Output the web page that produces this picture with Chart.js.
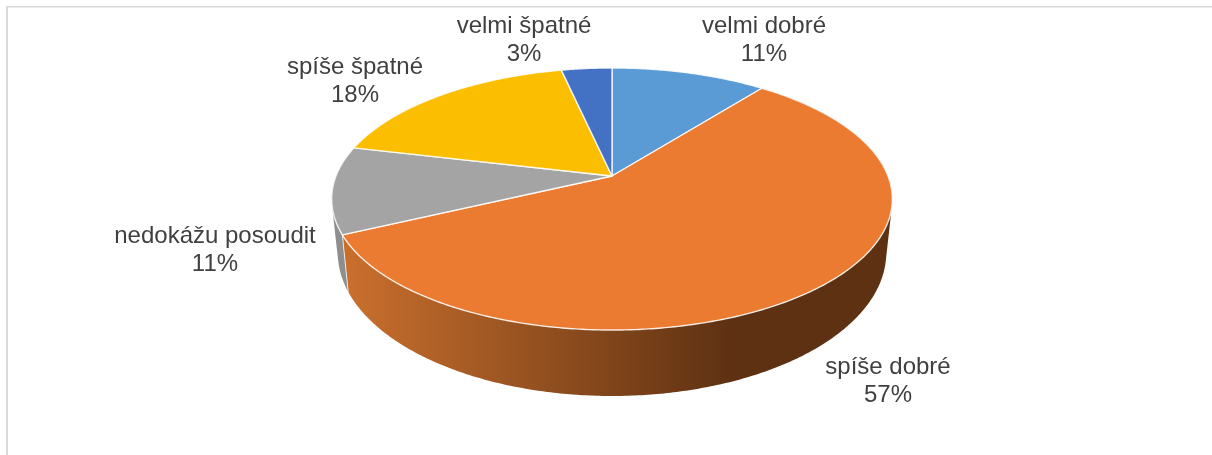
<!DOCTYPE html>
<html>
<head>
<meta charset="utf-8">
<style>
html,body{margin:0;padding:0;background:#fff;overflow:hidden}
canvas{display:block}
</style>
<script src="https://cdn.jsdelivr.net/npm/chart.js@4/dist/chart.umd.js"></script>
</head>
<body>
<canvas id="c" width="1212" height="455"></canvas>
<script>
const categories = ['velmi dobré','spíše dobré','nedokážu posoudit','spíše špatné','velmi špatné'];
const values = [10.6, 57.35, 10.75, 17.85, 3.45];
const colors = ['#5A9AD5','#EB7B30','#A4A4A4','#FCBE00','#4371C3'];
const wallColors = [null,null,'#8E8E8E',null,null];
const labelCenters = [[764,40],[888,381],[215,250],[355,81],[524,40]];

// perspective of the tilted disc: top face and bottom rim
const topFace = {cx:612, cy:176, a:276, b:127, p:-0.1755};
const botFace = {cx:612, cy:227.4, a:270, b:139, p:-0.1755};
function project(f, ang, r){
  const X=Math.cos(ang)*r, Y=Math.sin(ang)*r, d=1+f.p*Y;
  return [f.cx+f.a*X/d, f.cy+f.b*Y/d];
}
function arcPts(f, a0, a1){
  const n=Math.max(2,Math.ceil(Math.abs(a1-a0)/0.01)), pts=[];
  for(let i=0;i<=n;i++) pts.push(project(f,a0+(a1-a0)*i/n,1));
  return pts;
}
const tilted = {
  id:'tilted',
  beforeDatasetDraw(){ return false; },
  afterDatasetsDraw(chart){
    const ctx=chart.ctx, arcs=chart.getDatasetMeta(0).data;
    ctx.save();
    // frame
    ctx.fillStyle='#D9D9D9';
    ctx.fillRect(6,6,1206,1.5);
    ctx.fillRect(6,6,2,449);
    // side wall: one path per slice, so no seams between the strips
    arcs.forEach((el,i)=>{
      const top=arcPts(topFace,el.startAngle,el.endAngle), bot=arcPts(botFace,el.startAngle,el.endAngle);
      let fill=wallColors[i];
      if(i===1){
        const g=ctx.createLinearGradient(347,0,732,0);
        g.addColorStop(0,'#C96F2D');
        g.addColorStop(1,'#5E3112');
        fill=g;
      }
      if(!fill) return;
      ctx.fillStyle=fill;
      ctx.beginPath();
      for(let k=0;k<top.length-1;k++){
        // keep all strips wound the same way so that the union stays solid
        const q=[top[k],top[k+1],bot[k+1],bot[k]];
        let area=0;
        for(let m=0;m<4;m++){const u=q[m],v=q[(m+1)%4];area+=u[0]*v[1]-v[0]*u[1];}
        if(area<0) q.reverse();
        ctx.moveTo(q[0][0],q[0][1]);
        for(let m=1;m<4;m++) ctx.lineTo(q[m][0],q[m][1]);
        ctx.closePath();
      }
      ctx.fill('nonzero');
    });
    // edge between gray and orange wall
    const joint=arcs[1].endAngle, jt=project(topFace,joint,1), jb=project(botFace,joint,1);
    ctx.strokeStyle='rgba(255,255,255,0.75)'; ctx.lineWidth=1;
    ctx.beginPath(); ctx.moveTo(jt[0],jt[1]); ctx.lineTo(jb[0],jb[1]); ctx.stroke();
    // top face
    arcs.forEach((el,i)=>{
      const pts=arcPts(topFace,el.startAngle,el.endAngle);
      ctx.beginPath(); ctx.moveTo(topFace.cx,topFace.cy);
      pts.forEach(p=>ctx.lineTo(p[0],p[1]));
      ctx.closePath();
      ctx.fillStyle=colors[i]; ctx.fill();
      ctx.strokeStyle='rgba(255,255,255,0.85)'; ctx.lineWidth=1.4; ctx.lineJoin='round'; ctx.stroke();
    });
    // labels
    ctx.font='24px "Liberation Sans", Arial, sans-serif';
    ctx.fillStyle='#404040'; ctx.textAlign='center'; ctx.textBaseline='middle';
    categories.forEach((c,i)=>{
      const [x,y]=labelCenters[i];
      ctx.fillText(c,x,y-14);
      ctx.fillText(Math.round(values[i])+'%',x,y+14);
    });
    ctx.restore();
  }
};
new Chart(document.getElementById('c'),{
  type:'pie',
  data:{labels:categories,datasets:[{data:values,backgroundColor:colors,borderColor:'#fff',borderWidth:1}]},
  options:{responsive:false,animation:false,rotation:0,
    plugins:{legend:{display:false},tooltip:{enabled:false}}},
  plugins:[tilted]
});
</script>
</body>
</html>
